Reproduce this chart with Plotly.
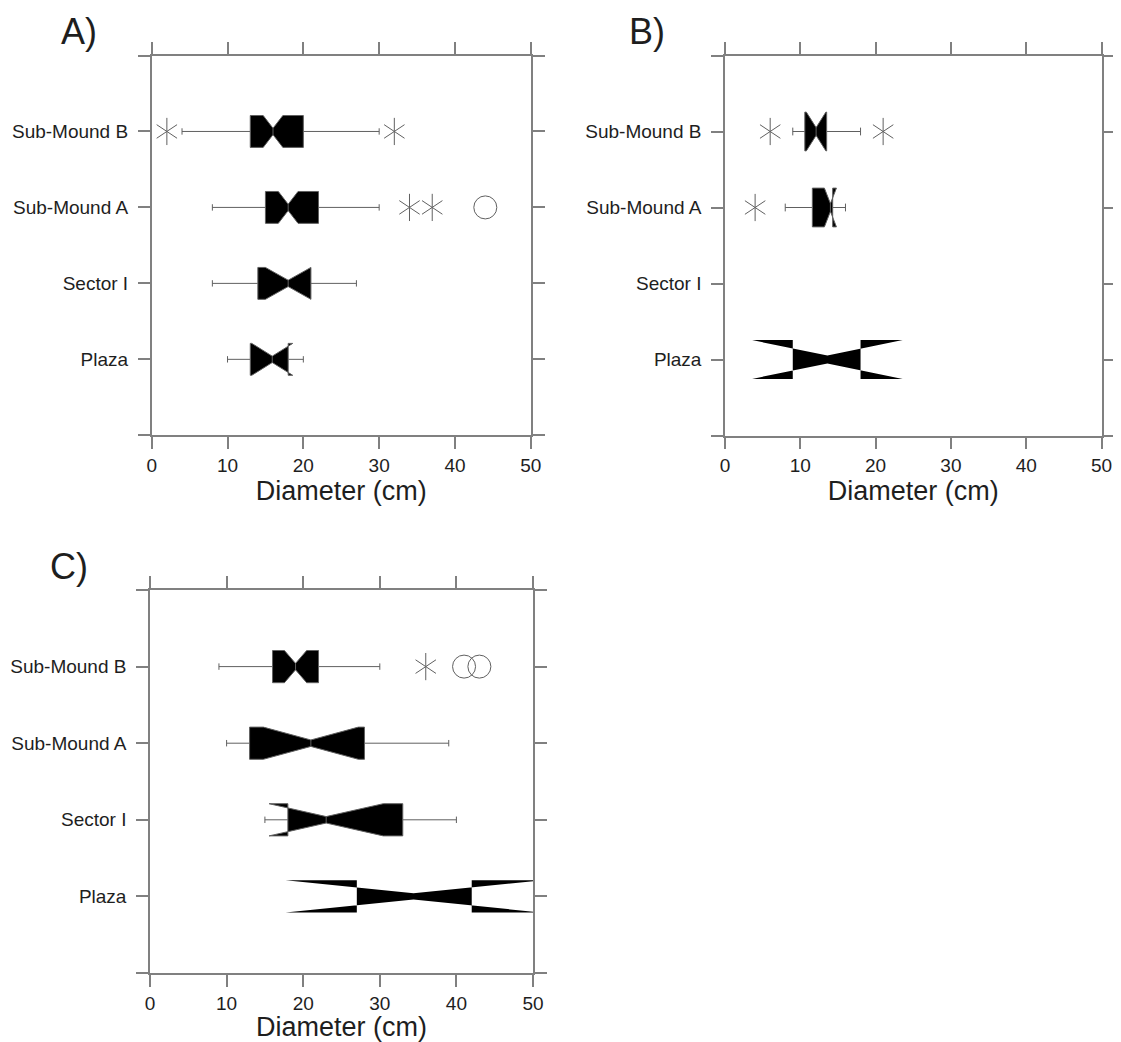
import plotly.graph_objects as go

# ---------------- data ----------------
categories = ["Plaza", "Sector I", "Sub-Mound A", "Sub-Mound B"]
x_ticks = [0, 10, 20, 30, 40, 50]

# Panel A
a_q1 = [13, 14, 15, 13]
a_med = [15.9, 18, 18, 16]
a_q3 = [18, 21, 22, 20]
a_low = [10, 8, 8, 4]
a_high = [20, 27, 30, 30]
a_notch = [2.7, 3.0, 1.3, 1.3]
a_star_x = [2, 32, 34, 37]
a_star_cat = ["Sub-Mound B", "Sub-Mound B", "Sub-Mound A", "Sub-Mound A"]
a_circ_x = [44]
a_circ_cat = ["Sub-Mound A"]

# Panel B (no Sector I data)
b_q1 = [9, None, 11.6, 10.6]
b_med = [13.6, None, 14.0, 12.1]
b_q3 = [18, None, 14.3, 13.5]
b_low = [9, None, 8, 9]
b_high = [18, None, 16, 18]
b_notch = [10.0, None, 0.8, 1.3]
b_star_x = [6, 21, 4]
b_star_cat = ["Sub-Mound B", "Sub-Mound B", "Sub-Mound A"]
b_circ_x = []
b_circ_cat = []

# Panel C
c_q1 = [27, 18, 13, 16]
c_med = [34.4, 23, 21, 19]
c_q3 = [42, 33, 28, 22]
c_low = [27, 15, 10, 9]
c_high = [42, 40, 39, 30]
c_notch = [16.7, 7.45, 6.2, 1.45]
c_star_x = [36]
c_star_cat = ["Sub-Mound B"]
c_circ_x = [41, 43]
c_circ_cat = ["Sub-Mound B", "Sub-Mound B"]

# ---------------- styling ----------------
FONT = "Liberation Sans, Arial, sans-serif"
TXT = "#1e1e1e"
AX = "#808080"
WH = "#606060"

OFF = 8                      # page body margin of the html page
W, H = 1121 - 2 * OFF, 1042 - OFF


def fx(px):
    return (px - OFF) / W


def fy(py):
    return 1 - (py - OFF) / H


panels = [
    dict(key="", q1=a_q1, med=a_med, q3=a_q3, lo=a_low, hi=a_high, nt=a_notch,
         sx=a_star_x, sc=a_star_cat, cx=a_circ_x, cc=a_circ_cat,
         xd=(151.7, 530.8), yd=(55.5, 435.3), bw=0.42, label="A)", lab=(59, 32)),
    dict(key="2", q1=b_q1, med=b_med, q3=b_q3, lo=b_low, hi=b_high, nt=b_notch,
         sx=b_star_x, sc=b_star_cat, cx=b_circ_x, cc=b_circ_cat,
         xd=(725.0, 1101.5), yd=(55.5, 435.5), bw=0.51, label="B)", lab=(627, 32)),
    dict(key="3", q1=c_q1, med=c_med, q3=c_q3, lo=c_low, hi=c_high, nt=c_notch,
         sx=c_star_x, sc=c_star_cat, cx=c_circ_x, cc=c_circ_cat,
         xd=(150.0, 533.0), yd=(590.0, 973.0), bw=0.42, label="C)", lab=(48, 566)),
]

fig = go.Figure()
layout = dict(
    width=W, height=H, margin=dict(l=0, r=0, t=0, b=0, autoexpand=False),
    paper_bgcolor="white", plot_bgcolor="white", showlegend=False,
    font=dict(family=FONT, color=TXT), annotations=[],
)

pos_of = {c: i + 1 for i, c in enumerate(categories)}

for p in panels:
    xa = "x" + p["key"]
    ya = "y" + p["key"]
    idx = [i for i, v in enumerate(p["q1"]) if v is not None]
    # boxes with visible whiskers vs. boxes whose fences equal the hinges
    groups = [
        ([i for i in idx if not (p["lo"][i] == p["q1"][i] and p["hi"][i] == p["q3"][i])], 1),
        ([i for i in idx if (p["lo"][i] == p["q1"][i] and p["hi"][i] == p["q3"][i])], 0),
    ]
    for g, lw in groups:
        if not g:
            continue
        fig.add_trace(go.Box(
            y=[pos_of[categories[i]] for i in g],
            q1=[p["q1"][i] for i in g],
            median=[p["med"][i] for i in g],
            q3=[p["q3"][i] for i in g],
            lowerfence=[p["lo"][i] for i in g],
            upperfence=[p["hi"][i] for i in g],
            notchspan=[p["nt"][i] for i in g],
            orientation="h", notched=True, notchwidth=0.4,
            width=p["bw"], whiskerwidth=0.2, boxpoints=False,
            fillcolor="black", line=dict(color=WH, width=lw),
            xaxis=xa, yaxis=ya, hoverinfo="skip",
        ))
    if p["sx"]:
        for sym in ("y-up-open", "y-down-open"):
            fig.add_trace(go.Scatter(
                x=p["sx"], y=[pos_of[c] for c in p["sc"]], mode="markers",
                marker=dict(symbol=sym, size=17, color=WH, line=dict(color=WH, width=1)),
                xaxis=xa, yaxis=ya, hoverinfo="skip",
            ))
    if p["cx"]:
        fig.add_trace(go.Scatter(
            x=p["cx"], y=[pos_of[c] for c in p["cc"]], mode="markers",
            marker=dict(symbol="circle-open", size=23, color=WH, line=dict(color=WH, width=1)),
            xaxis=xa, yaxis=ya, hoverinfo="skip",
        ))

    axkey = "xaxis" + p["key"]
    aykey = "yaxis" + p["key"]
    layout[axkey] = dict(
        domain=[fx(p["xd"][0]), fx(p["xd"][1])], anchor=ya, range=[0, 50],
        tickvals=x_ticks, ticktext=[str(v) for v in x_ticks],
        ticks="outside", ticklen=12, tickwidth=1.5, tickcolor=AX,
        showline=True, linecolor=AX, linewidth=1.5, mirror="ticks",
        showgrid=False, zeroline=False, automargin=False, ticklabeloverflow="allow",
        tickfont=dict(size=19, color=TXT, family=FONT),
        title=dict(text="Diameter (cm)", font=dict(size=27, color=TXT, family=FONT), standoff=4),
    )
    layout[aykey] = dict(
        domain=[fy(p["yd"][1]), fy(p["yd"][0])], anchor=xa, range=[0, 5],
        tickvals=[0, 1, 2, 3, 4, 5], ticktext=[""] + categories + [""],
        ticks="outside", ticklen=12, tickwidth=1.5, tickcolor=AX,
        showline=True, linecolor=AX, linewidth=1.5, mirror="ticks",
        showgrid=False, zeroline=False, ticklabelstandoff=6, automargin=False,
        tickfont=dict(size=19, color=TXT, family=FONT),
    )
    layout["annotations"].append(dict(
        text=p["label"], xref="paper", yref="paper",
        x=fx(p["lab"][0]), y=fy(p["lab"][1]), xanchor="left", yanchor="middle",
        showarrow=False, font=dict(size=36, color=TXT, family=FONT),
    ))

fig.update_layout(**layout)
fig.write_html("out.html")
